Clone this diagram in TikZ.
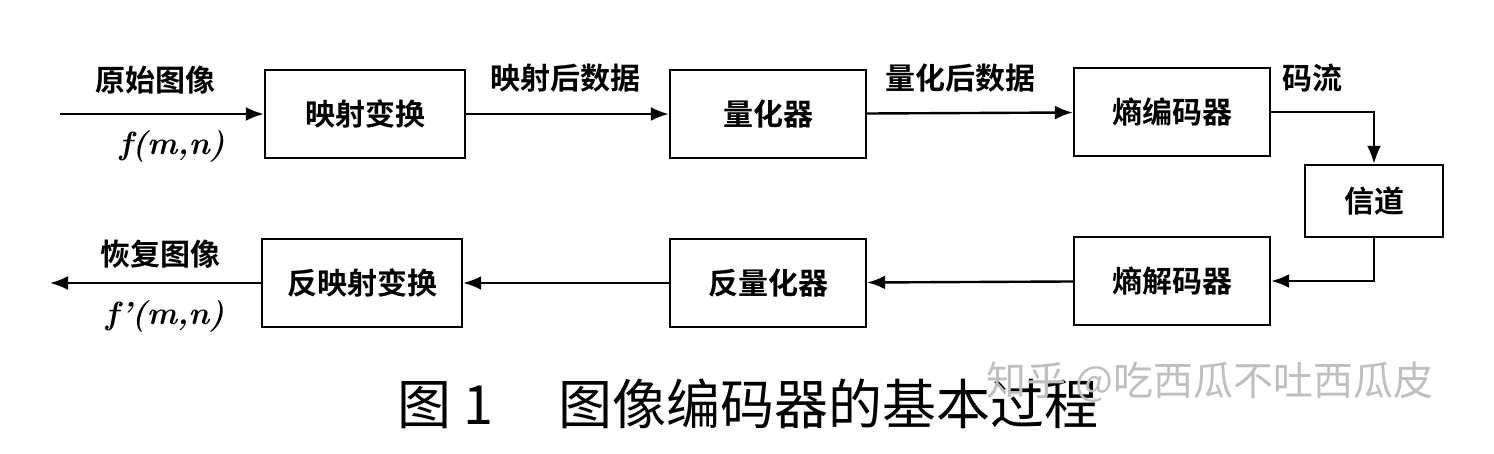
\documentclass[tikz,border=0pt]{standalone}
\usepackage{fontspec}
\newfontfamily\cjk{Noto Sans CJK SC}
\newfontfamily\cjkb{Noto Sans CJK SC Bold}
\usetikzlibrary{arrows.meta}
\tikzset{every picture/.style={line width=1pt}}
\tikzset{
  blockbox/.style={draw,line width=1.2pt,inner sep=0pt,font=\cjkb\fontsize{15}{18}\selectfont},
  lbl/.style={font=\cjkb\fontsize{15}{18}\selectfont,inner sep=0pt},
  flow/.style={-{Latex[length=9pt,width=7pt]},line width=1.2pt}
}
\begin{document}
\begin{tikzpicture}[x=0.5pt,y=-0.5pt]
\useasboundingbox (0,0) rectangle (1494,454);

% blocks
\node[blockbox,minimum width=100pt,minimum height=44pt] (map) at (365,114) {映射变换};
\node[blockbox,minimum width=98pt,minimum height=44pt] (quant) at (768,114) {量化器};
\node[blockbox,minimum width=98pt,minimum height=44pt] (enc) at (1172,112) {熵编码器};
\node[blockbox,minimum width=69pt,minimum height=36pt] (chan) at (1374,201) {信道};
\node[blockbox,minimum width=98pt,minimum height=44pt] (dec) at (1172,281) {熵解码器};
\node[blockbox,minimum width=98pt,minimum height=44pt] (iquant) at (768,283) {反量化器};
\node[blockbox,minimum width=100pt,minimum height=44pt] (imap) at (362,283) {反映射变换};

\coordinate (in) at (60,114);
\coordinate (out) at (50,283);

% connectors
\draw[flow] (in) -- (map);
\draw[flow] (map) -- (quant);
\draw[flow] (quant) -- (enc);
\draw[flow] (enc.east) -| (chan.north);
\draw[flow] (chan.south) |- (dec.east);
\draw[flow] (dec) -- (iquant);
\draw[flow] (iquant) -- (imap);
\draw[flow] (imap) -- (out);

% labels
\node[lbl] (l1) at (155,80) {原始图像};
\node[lbl,font=\bfseries\itshape\fontsize{16}{19}\selectfont] (l2) at (172,146) {f(m,n)};
\node[lbl] (l3) at (565,78) {映射后数据};
\node[lbl] (l4) at (960,78) {量化后数据};
\node[lbl] (l5) at (1312,78) {码流};
\node[lbl] (l6) at (160,254) {恢复图像};
\node[lbl,font=\bfseries\itshape\fontsize{16}{19}\selectfont] (l7) at (165,316) {f'(m,n)};

% caption
\node[font=\cjk\fontsize{27}{32}\selectfont,inner sep=0pt] (cap) at (748,404) {图 1\hspace{1.2em}图像编码器的基本过程};
\node[font=\cjk\fontsize{20}{24}\selectfont,inner sep=0pt,text=black!25] (wm) at (1210,382) {知乎 @吃西瓜不吐西瓜皮};
\end{tikzpicture}
\end{document}
